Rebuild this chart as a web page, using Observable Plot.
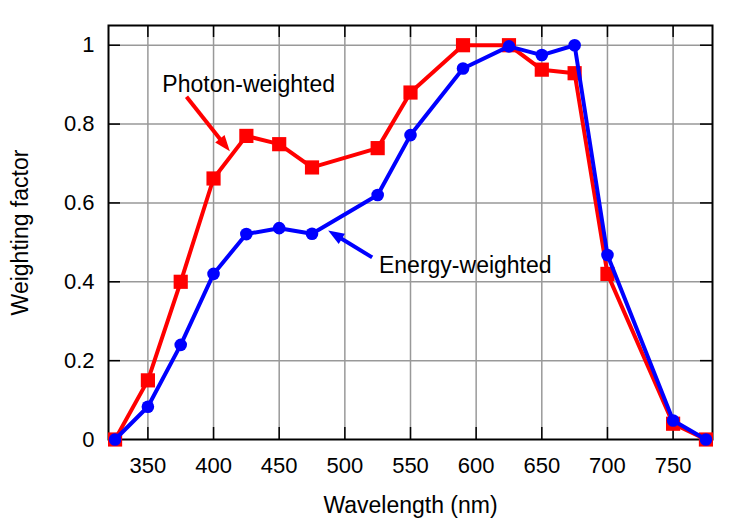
<!DOCTYPE html>
<html>
<head>
<meta charset="utf-8">
<script src="https://cdn.jsdelivr.net/npm/d3@7"></script>
<script src="https://cdn.jsdelivr.net/npm/@observablehq/plot@0.6"></script>
<style>
  html, body { margin: 0; padding: 0; background: #fff; }
  #chart svg { display: block; }
</style>
</head>
<body>
<div id="chart"></div>
<script>
// ---- data ----
const wavelengths = [325, 350, 375, 400, 425, 450, 475, 525, 550, 590, 625, 650, 675, 700, 750, 775];
const photonWeighted = [0, 0.15, 0.40, 0.662, 0.77, 0.749, 0.69, 0.739, 0.88, 1.0, 1.0, 0.938, 0.929, 0.42, 0.04, 0];
const energyWeighted = [0, 0.083, 0.24, 0.42, 0.521, 0.536, 0.522, 0.62, 0.772, 0.941, 0.997, 0.975, 1.0, 0.468, 0.048, 0];

const xTicks = [350, 400, 450, 500, 550, 600, 650, 700, 750];
const xTickLabels = ["350", "400", "450", "500", "550", "600", "650", "700", "750"];
const yTicks = [0, 0.2, 0.4, 0.6, 0.8, 1];
const yTickLabels = ["0", "0.2", "0.4", "0.6", "0.8", "1"];

const annotationLabels = ["Photon-weighted", "Energy-weighted"];
const annotationX = [361, 526];
const annotationY = [0.90, 0.441];
const arrowTailX = [379.4, 520.8];
const arrowTailY = [0.869, 0.462];
const arrowTipX = [412.4, 487.3];
const arrowTipY = [0.731, 0.530];
const arrowColors = ["#ff0000", "#0000ff"];

const xLabel = "Wavelength (nm)";
const yLabel = "Weighting factor";

// ---- layout ----
const W = 750, H = 525;
const mL = 108, mR = 38, mT = 25, mB = 86;
const xDomain = [320, 780];
const yDomain = [0, 1.05];
const frameW = W - mL - mR, frameH = H - mT - mB;
const tickLen = 12;
const FONT = "Liberation Sans, Arial, Helvetica, sans-serif";

const photonData = wavelengths.map((w, i) => ({w, v: photonWeighted[i]}));
const energyData = wavelengths.map((w, i) => ({w, v: energyWeighted[i]}));

// scales to compute arrow-head orientation in screen space
const sx = Plot.scale({x: {domain: xDomain, range: [mL, W - mR]}});
const sy = Plot.scale({y: {domain: yDomain, range: [H - mB, mT]}});
const arrows = annotationLabels.map((label, i) => {
  const x1 = sx.apply(arrowTailX[i]), y1 = sy.apply(arrowTailY[i]);
  const x2 = sx.apply(arrowTipX[i]), y2 = sy.apply(arrowTipY[i]);
  const dx = x2 - x1, dy = y2 - y1, len = Math.hypot(dx, dy);
  const back = 10;
  return {
    label,
    color: arrowColors[i],
    tx: arrowTailX[i], ty: arrowTailY[i],
    hx: arrowTipX[i], hy: arrowTipY[i],
    sx2: sx.invert(x2 - dx / len * back),
    sy2: sy.invert(y2 - dy / len * back),
    angle: Math.atan2(dx, -dy) * 180 / Math.PI,
    lx: annotationX[i], ly: annotationY[i]
  };
});

const arrowHead = {
  draw(context) {
    context.moveTo(0, 0);
    context.lineTo(-6, 16);
    context.lineTo(6, 16);
    context.closePath();
  }
};

const chart = Plot.plot({
  width: W,
  height: H,
  marginLeft: mL,
  marginRight: mR,
  marginTop: mT,
  marginBottom: mB,
  style: {fontFamily: FONT, fontSize: "22px", background: "#fff", color: "#000"},
  x: {domain: xDomain, label: null},
  y: {domain: yDomain, label: null},
  marks: [
    Plot.gridX(xTicks, {stroke: "#999", strokeOpacity: 1, strokeWidth: 1.5}),
    Plot.gridY(yTicks.filter(d => d > 0), {stroke: "#999", strokeOpacity: 1, strokeWidth: 1.5}),
    // inward ticks
    Plot.ruleX(xTicks, {x: d => d, insetTop: frameH - tickLen, stroke: "#000", strokeWidth: 1.5}),
    Plot.ruleX(xTicks, {x: d => d, insetBottom: frameH - tickLen, stroke: "#000", strokeWidth: 1.5}),
    Plot.ruleY(yTicks, {y: d => d, insetRight: frameW - tickLen, stroke: "#000", strokeWidth: 1.5}),
    Plot.ruleY(yTicks, {y: d => d, insetLeft: frameW - tickLen, stroke: "#000", strokeWidth: 1.5}),
    Plot.frame({stroke: "#000", strokeWidth: 2}),
    Plot.axisX(xTicks, {tickSize: 0, tickPadding: 18, tickFormat: (d, i) => xTickLabels[i], fontSize: 22, label: null}),
    Plot.axisY(yTicks, {tickSize: 0, tickPadding: 14, tickFormat: (d, i) => yTickLabels[i], fontSize: 22, label: null}),
    // series
    Plot.line(photonData, {x: "w", y: "v", stroke: "#ff0000", strokeWidth: 4}),
    Plot.dot(photonData, {x: "w", y: "v", symbol: "square", r: 8, fill: "#ff0000"}),
    Plot.line(energyData, {x: "w", y: "v", stroke: "#0000ff", strokeWidth: 4}),
    Plot.dot(energyData, {x: "w", y: "v", symbol: "circle", r: 6.3, fill: "#0000ff"}),
    // annotations
    Plot.link(arrows, {x1: "tx", y1: "ty", x2: "sx2", y2: "sy2", stroke: "color", strokeWidth: 4}),
    Plot.dot(arrows, {x: "hx", y: "hy", symbol: arrowHead, r: 5, fill: "color", rotate: "angle"}),
    Plot.text(arrows, {x: "lx", y: "ly", text: "label", textAnchor: "start", fill: "#000", fontSize: 23}),
    // axis titles
    Plot.text([xLabel], {text: d => d, frameAnchor: "bottom", dy: 66, textAnchor: "middle", lineAnchor: "middle", fill: "#000", fontSize: 23}),
    Plot.text([yLabel], {text: d => d, frameAnchor: "left", dx: -88, rotate: -90, textAnchor: "middle", lineAnchor: "middle", fill: "#000", fontSize: 23})
  ]
});
document.getElementById("chart").appendChild(chart);
</script>
</body>
</html>
